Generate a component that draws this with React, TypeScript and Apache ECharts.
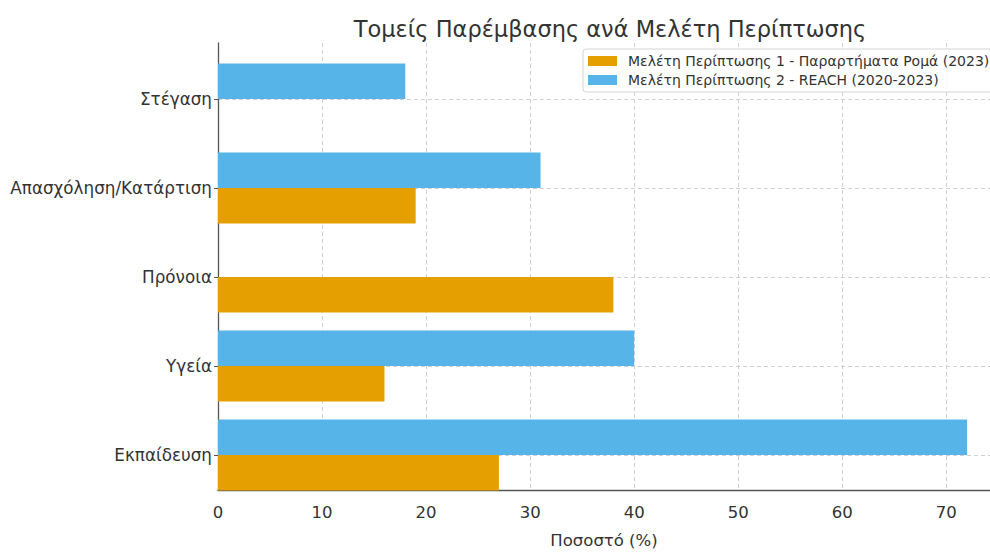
import React, { useEffect, useRef } from "react";
import * as echarts from "echarts";

const categories = ["Εκπαίδευση", "Υγεία", "Πρόνοια", "Απασχόληση/Κατάρτιση", "Στέγαση"];
const seriesNames = [
  "Μελέτη Περίπτωσης 1 - Παραρτήματα Ρομά (2023)",
  "Μελέτη Περίπτωσης 2 - REACH (2020-2023)",
];
const case1Values = [27, 16, 38, 19, 0];
const case2Values = [72, 40, 0, 31, 18];
const xTicks = [0, 10, 20, 30, 40, 50, 60, 70];

const FONT = "DejaVu Sans";

export default function App() {
  const ref = useRef<HTMLDivElement>(null);
  useEffect(() => {
    if (!ref.current) return;
    const chart = echarts.init(ref.current, undefined, { renderer: "svg" });
    const gridLine = { show: true, lineStyle: { color: "#d0d0d0", type: [4, 3], width: 1 } };
    chart.setOption({
      animation: false,
      textStyle: { fontFamily: FONT },
      title: {
        text: "Τομείς Παρέμβασης ανά Μελέτη Περίπτωσης",
        left: 605,
        textAlign: "center",
        top: 12,
        textStyle: { fontFamily: FONT, fontSize: 22.5, fontWeight: "normal", color: "#333" },
      },
      legend: {
        data: seriesNames,
        orient: "vertical",
        left: 583,
        top: 49,
        itemWidth: 29,
        itemHeight: 10,
        itemGap: 5,
        padding: [5, 8, 5, 5],
        borderColor: "#d5d5d5",
        borderWidth: 1,
        borderRadius: 3,
        backgroundColor: "rgba(255,255,255,0.85)",
        textStyle: { fontFamily: FONT, fontSize: 14, color: "#333", padding: [0, 0, 0, 6] },
        icon: "rect",
      },
      grid: [
        { left: 218, right: 0, top: 43, bottom: 42 },
        { left: 218, right: 0, top: 99, bottom: 99 },
      ],
      xAxis: [
        {
          type: "value",
          gridIndex: 0,
          min: xTicks[0],
          max: 74.2,
          interval: 10,
          axisLine: { show: true, lineStyle: { color: "#555", width: 1.3 } },
          axisTick: { show: false },
          axisLabel: {
            show: true,
            fontFamily: FONT,
            fontSize: 16.5,
            color: "#333",
            margin: 14,
            showMaxLabel: false,
          },
          splitLine: gridLine,
          name: "Ποσοστό (%)",
          nameLocation: "middle",
          nameGap: 42,
          nameTextStyle: { fontFamily: FONT, fontSize: 16.5, color: "#333" },
        },
        {
          type: "value",
          gridIndex: 1,
          min: xTicks[0],
          max: 74.2,
          show: false,
        },
      ],
      yAxis: [
        {
          type: "value",
          gridIndex: 0,
          min: 0,
          max: 1,
          axisLine: { show: true, lineStyle: { color: "#555", width: 1.3 } },
          axisTick: { show: false },
          axisLabel: { show: false },
          splitLine: { show: false },
        },
        {
          type: "category",
          gridIndex: 1,
          data: categories,
          boundaryGap: false,
          axisLine: { show: false },
          axisTick: { show: true, length: 4, lineStyle: { color: "#555" } },
          axisLabel: { fontFamily: FONT, fontSize: 16.8, color: "#333", margin: 6 },
          splitLine: gridLine,
        },
      ],
      series: [
        {
          name: seriesNames[1],
          type: "bar",
          xAxisIndex: 1,
          yAxisIndex: 1,
          data: case2Values,
          barWidth: 35.6,
          barGap: "0%",
          clip: false,
          itemStyle: { color: "#56B4E9" },
        },
        {
          name: seriesNames[0],
          type: "bar",
          xAxisIndex: 1,
          yAxisIndex: 1,
          data: case1Values,
          barWidth: 35.6,
          barGap: "0%",
          clip: false,
          itemStyle: { color: "#E69F00" },
        },
      ],
    });
    return () => chart.dispose();
  }, []);
  return <div ref={ref} style={{ width: 990, height: 554, position: "absolute", left: 0, top: 0 }} />;
}
